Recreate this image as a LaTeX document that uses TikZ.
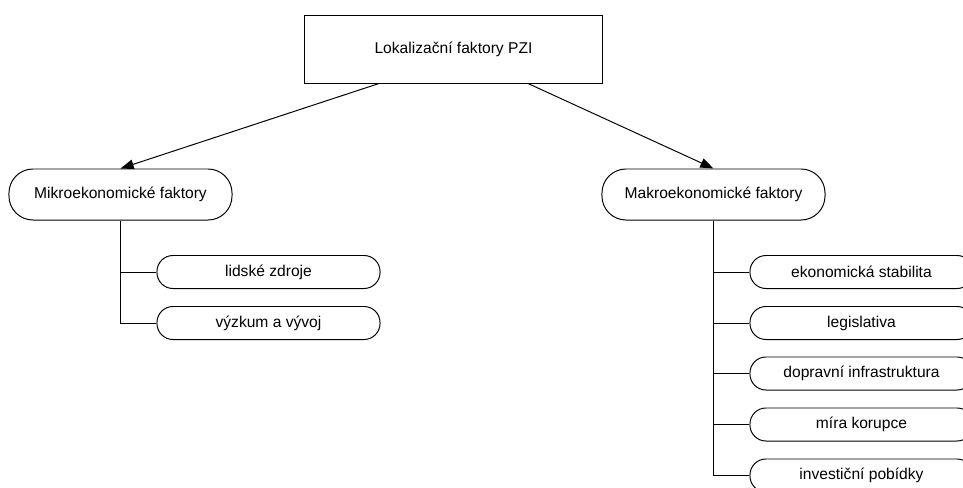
\documentclass[tikz,border=0pt]{standalone}
\usepackage{fontspec}
\setmainfont{Liberation Sans}
\usetikzlibrary{arrows.meta, calc}

\tikzset{
    mainbox/.style={draw, inner sep=0pt, minimum width=7.425cm, minimum height=1.7cm},
    groupbox/.style={draw, inner sep=0pt, rounded corners=0.6cm, minimum width=5.575cm, minimum height=1.275cm},
    itembox/.style={draw, inner sep=0pt, rounded corners=0.4cm, minimum width=5.575cm, minimum height=0.825cm},
    arrow/.style={-{Triangle[length=0.33cm, width=0.24cm]}},
}

\begin{document}
\begin{tikzpicture}[x=0.025cm, y=-0.025cm, line width=0.7pt, font=\fontsize{11.1}{13}\selectfont]
    % border
    \clip (0,0) rectangle (963,488);
    % root
    \node[mainbox] (root) at (453.5,49) {Lokalizační faktory PZI};
    % groups
    \node[groupbox] (mikro) at (120.5,194.5) {Mikroekonomické faktory};
    \node[groupbox] (makro) at (713.5,194.5) {Makroekonomické faktory};
    \draw[arrow] ($(root.south west)!0.25!(root.south east)$) -- (mikro.north);
    \draw[arrow] ($(root.south west)!0.75!(root.south east)$) -- (makro.north);
    % mikro items
    \node[itembox] (lidske) at (268.5,272) {lidské zdroje};
    \node[itembox] (vyzkum) at (268.5,323) {výzkum a vývoj};
    \draw (mikro.south) |- (lidske.west);
    \draw (mikro.south) |- (vyzkum.west);
    % makro items
    \node[itembox] (stabilita) at (861.5,272) {ekonomická stabilita};
    \node[itembox] (legislativa) at (861.5,323) {legislativa};
    \node[itembox] (doprava) at (861.5,373.5) {dopravní infrastruktura};
    \node[itembox] (korupce) at (861.5,424.5) {míra korupce};
    \node[itembox] (pobidky) at (861.5,475.5) {investiční pobídky};
    \foreach \item in {stabilita, legislativa, doprava, korupce, pobidky}
        \draw (makro.south) |- (\item.west);
\end{tikzpicture}
\end{document}
